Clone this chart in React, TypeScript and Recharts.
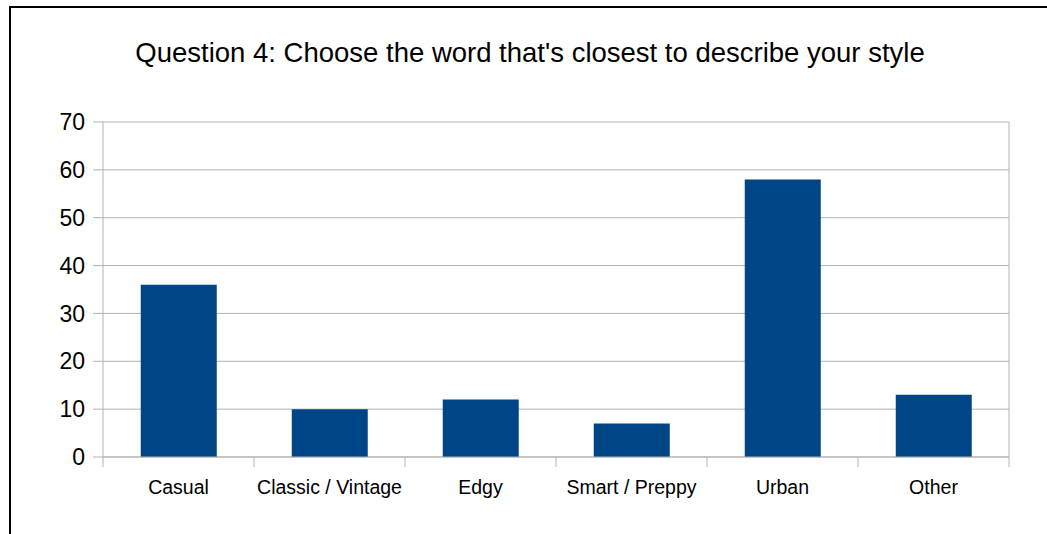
import { Bar, BarChart, CartesianGrid, XAxis, YAxis } from "recharts";

const categories = ["Casual", "Classic / Vintage", "Edgy", "Smart / Preppy", "Urban", "Other"];
const responses = [36, 10, 12, 7, 58, 13];
const yTicks = [0, 10, 20, 30, 40, 50, 60, 70];

const data = categories.map((name, i) => ({ name, value: responses[i] }));

const FONT = "'Liberation Sans', Arial, sans-serif";
const GREY = "#b3b3b3";

function CategoryTick(props: any) {
  const { x, y, payload, index } = props;
  const half = payload?.offset ?? 75.5;
  const last = index === categories.length - 1;
  return (
    <g>
      <line x1={x - half} x2={x - half} y1={y} y2={y + 10} stroke={GREY} />
      {last && <line x1={x + half} x2={x + half} y1={y} y2={y + 10} stroke={GREY} />}
      <text x={x} y={y + 37} textAnchor="middle" fill="#000" fontSize={19.5} fontFamily={FONT}>
        {payload.value}
      </text>
    </g>
  );
}

export default function App() {
  return (
    <div style={{ position: "absolute", left: 0, top: 0, width: 1047, height: 534, background: "#fff", overflow: "hidden" }}>
      <div
        style={{
          position: "absolute",
          left: 9,
          top: 6,
          width: 1100,
          height: 600,
          borderLeft: "2px solid #000",
          borderTop: "2px solid #000",
        }}
      />
      <div
        style={{
          position: "absolute",
          left: 0,
          width: 1060,
          top: 36,
          textAlign: "center",
          fontFamily: FONT,
          fontSize: 27.5,
          color: "#000",
          lineHeight: "34px",
          whiteSpace: "nowrap",
        }}
      >
        Question 4: Choose the word that's closest to describe your style
      </div>
      <div style={{ position: "absolute", left: 0, top: 0 }}>
        <BarChart
          width={1047}
          height={534}
          data={data}
          margin={{ top: 122, right: 37, bottom: 0, left: 0 }}
          barCategoryGap="25%"
        >
          <CartesianGrid vertical={false} stroke={GREY} />
          <XAxis
            dataKey="name"
            height={77}
            axisLine={{ stroke: GREY }}
            tickLine={false}
            tickSize={0}
            tickMargin={0}
            interval={0}
            tick={<CategoryTick />}
          />
          <YAxis
            width={103}
            domain={[0, 70]}
            ticks={yTicks}
            interval={0}
            axisLine={{ stroke: GREY }}
            tickLine={{ stroke: GREY }}
            tickSize={10}
            tickMargin={8}
            tick={{ fill: "#000", fontSize: 23, fontFamily: FONT }}
          />
          <YAxis
            yAxisId="frame"
            orientation="right"
            width={1}
            domain={[0, 70]}
            tick={false}
            tickLine={false}
            axisLine={{ stroke: GREY }}
          />
          <Bar dataKey="value" fill="#004586" isAnimationActive={false} />
        </BarChart>
      </div>
    </div>
  );
}
